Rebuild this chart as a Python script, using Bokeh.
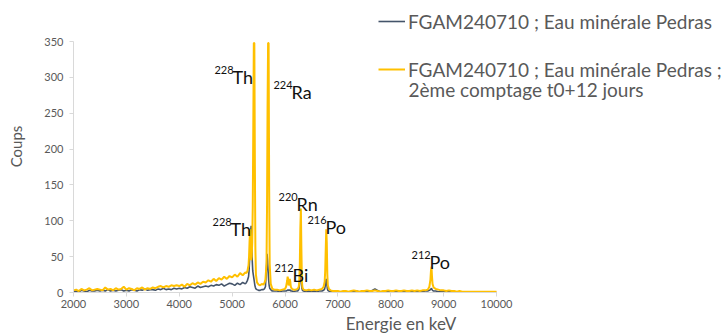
from bokeh.plotting import figure
from bokeh.models import Range1d, FixedTicker, Legend, LegendItem, Label
from bokeh.embed import file_html
from bokeh.resources import INLINE

# ---------------- data ----------------
energy_low = list(range(2000, 5251, 50))
t0_low = [1, 2, 1, 3, 2, 1, 3, 2, 2, 3,
          2, 3, 2, 4, 2, 3, 2, 3, 4, 2,
          3, 2, 4, 3, 2, 4, 3, 5, 3, 4,
          4, 3, 5, 4, 6, 4, 5, 4, 6, 5,
          6, 5, 7, 6, 8, 7, 6, 9, 7, 8,
          9, 8, 10, 9, 11, 10, 12, 9, 11, 13,
          12, 10, 13, 11, 14, 12]
t12_low = [3, 4, 2, 5, 3, 4, 6, 3, 4, 5,
           4, 3, 7, 4, 5, 3, 6, 4, 5, 8,
           4, 6, 5, 3, 6, 5, 7, 4, 6, 5,
           7, 6, 8, 9, 7, 9, 8, 10, 9, 10,
           9, 11, 8, 12, 10, 13, 11, 14, 12, 15,
           14, 17, 15, 19, 16, 20, 18, 22, 19, 23,
           21, 25, 22, 27, 24, 28]

energy_th_ra = [5270, 5290, 5310, 5320, 5330, 5340, 5350, 5360, 5370, 5380,
                5390, 5400, 5410, 5420, 5430, 5440, 5450, 5470, 5500, 5530,
                5560, 5590, 5610, 5630, 5650, 5660, 5670, 5680, 5690, 5700,
                5710, 5730, 5760, 5800]
t0_th_ra = [14, 17, 22, 30, 45, 65, 85, 93, 75, 45,
            30, 25, 20, 15, 10, 7, 5, 4, 3, 3,
            4, 4, 5, 8, 35, 54, 45, 30, 18, 10,
            6, 4, 2, 2]
t12_th_ra = [27, 30, 38, 50, 72, 88, 60, 45, 50, 70,
             120, 230, 348, 348, 180, 60, 25, 14, 11, 10,
             12, 11, 13, 18, 40, 120, 260, 348, 348, 150,
             40, 12, 5, 4]

energy_bi_rn_po = [5850, 5900, 5950, 6000, 6020, 6040, 6050, 6060, 6070, 6080,
                   6090, 6100, 6110, 6130, 6160, 6200, 6240, 6260, 6270, 6280,
                   6290, 6300, 6310, 6320, 6330, 6350, 6400, 6450, 6500, 6550,
                   6600, 6650, 6700, 6730, 6750, 6760, 6770, 6780, 6790, 6800,
                   6810, 6830, 6860, 6900, 6950]
t0_bi_rn_po = [2, 1, 2, 2, 2, 3, 3, 4, 3, 3,
               4, 3, 2, 2, 1, 2, 2, 4, 8, 18,
               28, 30, 15, 6, 3, 2, 1, 2, 1, 2,
               1, 2, 2, 3, 5, 9, 15, 19, 12, 6,
               3, 2, 1, 1, 1]
t12_bi_rn_po = [4, 3, 4, 5, 8, 16, 22, 18, 10, 12,
                19, 15, 8, 5, 4, 4, 5, 8, 15, 40,
                90, 117, 60, 15, 7, 4, 3, 4, 3, 4,
                3, 4, 5, 8, 15, 30, 60, 88, 70, 25,
                10, 5, 3, 2, 2]

energy_high = (list(range(7000, 8651, 50))
               + [8700, 8730, 8750, 8760, 8770, 8780, 8790, 8810, 8850, 8900, 8950]
               + list(range(9000, 10001, 50)))
t0_high = [1, 0, 1, 1, 0, 1, 1, 2, 1, 1,
           1, 2, 1, 3, 5, 3, 1, 1, 2, 1,
           1, 2, 1, 1, 2, 1, 1, 2, 1, 2,
           1, 2, 1, 2,
           2, 3, 4, 5, 6, 4, 3, 2, 2, 1, 1,
           1, 1, 2, 1, 1, 0, 1, 0, 0, 0,
           0, 0, 0, 0, 0, 0, 0, 0, 0, 0, 0]
t12_high = [2, 1, 2, 2, 1, 2, 3, 2, 1, 2,
            2, 3, 2, 2, 3, 2, 1, 2, 2, 3,
            2, 2, 3, 2, 2, 3, 2, 2, 3, 2,
            3, 2, 3, 3,
            4, 8, 18, 30, 36, 22, 12, 7, 5, 4, 3,
            3, 2, 3, 2, 2, 1, 2, 1, 1, 1,
            1, 1, 1, 1, 1, 1, 1, 1, 1, 1, 1]

energy = energy_low + energy_th_ra + energy_bi_rn_po + energy_high
counts_t0 = t0_low + t0_th_ra + t0_bi_rn_po + t0_high
counts_t12 = t12_low + t12_th_ra + t12_bi_rn_po + t12_high

x_ticks = [2000, 3000, 4000, 5000, 6000, 7000, 8000, 9000, 10000]
y_ticks = [0, 50, 100, 150, 200, 250, 300, 350]

series_names = ["FGAM240710 ; Eau minérale Pedras",
                "FGAM240710 ; Eau minérale Pedras ;"]
series2_line2 = "2ème comptage t0+12 jours"

# isotope labels: (mass number, element, energy anchor, count anchor)
isotopes = [("228", "Th", 4666, 301),
            ("224", "Ra", 5782, 280),
            ("228", "Th", 4629, 89),
            ("220", "Rn", 5877, 123),
            ("216", "Po", 6425, 91),
            ("212", "Bi", 5801, 25),
            ("212", "Po", 8392, 42)]

# ---------------- figure ----------------
FONT = "Lato"
BLUE = "#44546A"
GOLD = "#FFC000"
GREY = "#595959"

p = figure(width=728, height=336, output_backend="svg", toolbar_location=None,
           x_range=Range1d(2000, 14387), y_range=Range1d(0, 407.2),
           min_border_left=73, min_border_right=0, min_border_top=0,
           min_border_bottom=44)
p.outline_line_color = None
p.background_fill_color = "white"
p.border_fill_color = "white"
p.xgrid.visible = False
p.ygrid.visible = False

r0 = p.line(energy, counts_t0, line_color=BLUE, line_width=1.6)
r1 = p.line(energy, counts_t12, line_color=GOLD, line_width=2)

for ax in (p.xaxis[0], p.yaxis[0]):
    ax.axis_line_color = "#d9d9d9"
    ax.major_tick_line_color = "#d9d9d9"
    ax.major_tick_out = 4
    ax.major_tick_in = 0
    ax.minor_tick_line_color = None
    ax.major_label_text_font = FONT
    ax.major_label_text_font_size = "11px"
    ax.major_label_text_color = GREY
    ax.axis_label_text_font = FONT
    ax.axis_label_text_font_style = "normal"
    ax.axis_label_text_color = GREY

p.xaxis.ticker = FixedTicker(ticks=x_ticks)
p.xaxis.bounds = (2000, 10000)
p.xaxis.axis_label = "Energie en keV"
p.xaxis.axis_label_text_font_size = "17px"
p.xaxis.major_label_standoff = 3
p.xaxis.axis_label_standoff = 2

p.yaxis.ticker = FixedTicker(ticks=y_ticks)
p.yaxis.bounds = (0, 350)
p.yaxis.axis_label = "Coups"
p.yaxis.axis_label_text_font_size = "15px"
p.yaxis.major_label_standoff = 6
p.yaxis.axis_label_standoff = 16

for mass, elem, ex, cy in isotopes:
    p.add_layout(Label(x=ex, y=cy, text=mass, text_font=FONT, text_font_size="11px",
                       text_color="#111111", y_offset=7, text_baseline="alphabetic"))
    p.add_layout(Label(x=ex, y=cy, text=elem, text_font=FONT, text_font_size="18px",
                       text_color="#111111", x_offset=18, text_baseline="alphabetic"))

legend = Legend(items=[LegendItem(label=series_names[0], renderers=[r0]),
                       LegendItem(label=series_names[1], renderers=[r1])],
                location=(305, 211), orientation="vertical",
                label_text_font=FONT, label_text_font_size="19px",
                label_text_color=GREY, glyph_width=27, glyph_height=24,
                label_height=24, label_standoff=3, spacing=24,
                padding=0, margin=0, border_line_alpha=0,
                background_fill_alpha=0)
p.add_layout(legend, "center")
p.add_layout(Label(x=335, y=203, x_units="screen", y_units="screen",
                   text=series2_line2, text_font=FONT, text_font_size="19px",
                   text_color=GREY, text_baseline="alphabetic"))

open("out.html", "w").write(file_html(p, INLINE))
